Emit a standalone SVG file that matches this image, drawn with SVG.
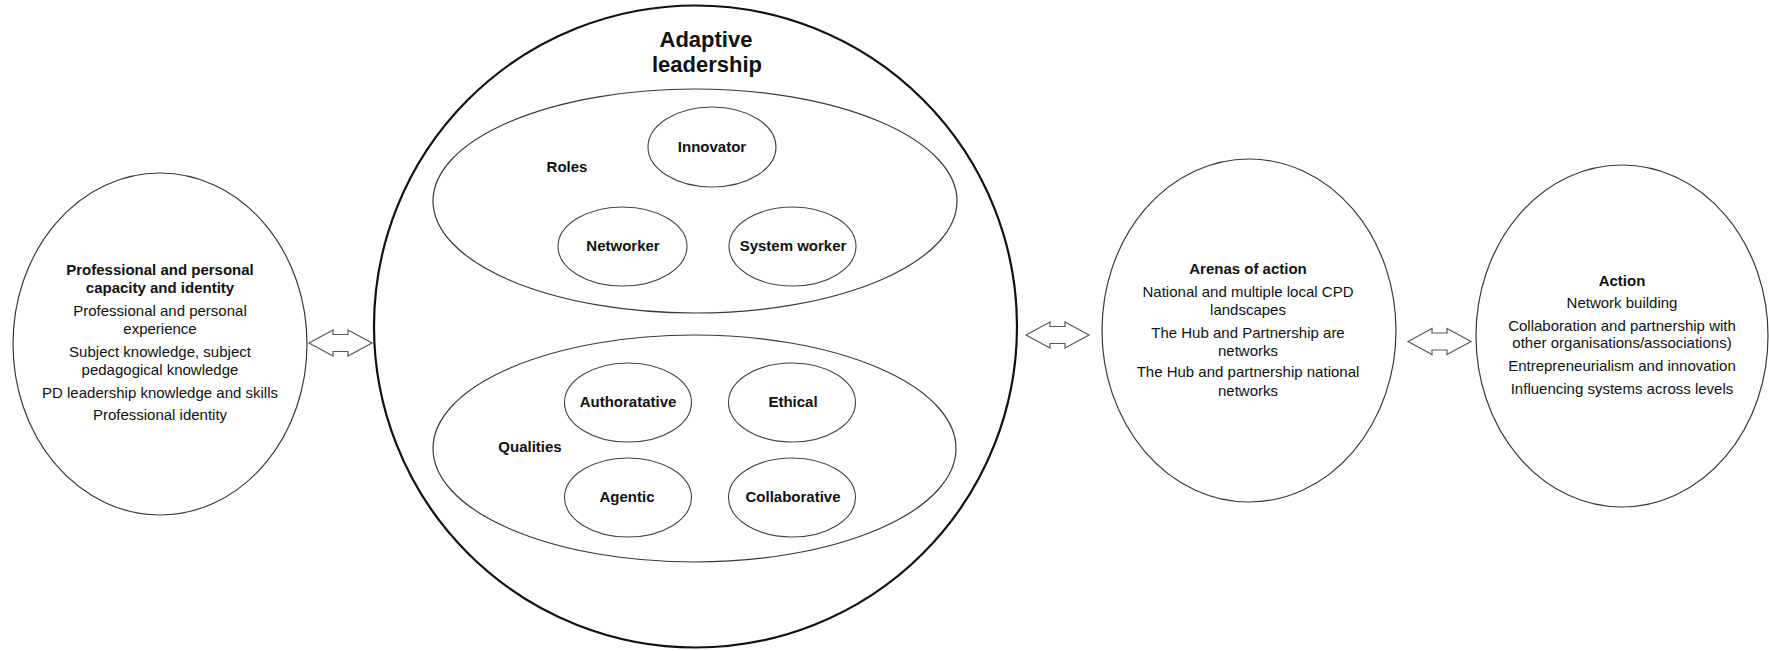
<svg xmlns="http://www.w3.org/2000/svg" xmlns:xlink="http://www.w3.org/1999/xlink" width="1769" height="651" viewBox="0 0 1769 651">
  <style>
    .bg { fill: #ffffff; }
    .node { fill: #ffffff; stroke: #3a3a3a; stroke-width: 1.2; }
    .outer { fill: #ffffff; stroke: #111111; stroke-width: 2.2; }
    .inner { fill: #ffffff; stroke: #444444; stroke-width: 1.1; }
    text { font-family: "Liberation Sans", Arial, sans-serif; fill: #111111; text-anchor: middle; }
    .t { font-size: 15px; }
    .b { font-size: 15px; font-weight: bold; }
    .big { font-size: 22px; font-weight: bold; }
    .lbl { font-size: 15px; font-weight: bold; }
    .arrow { fill: #ffffff; stroke: #5a5a5a; stroke-width: 1.2; stroke-linejoin: miter; }
  </style>
  <defs>
    <!-- double-headed block arrow, left tip at origin -->
    <path id="dblArrow" class="arrow" d="M0,0 L24,-13 L24,-8.5 L39,-8.5 L39,-13 L63,0 L39,13 L39,8.5 L24,8.5 L24,13 Z"/>
  </defs>

  <rect class="bg" x="0" y="0" width="1769" height="651"/>

  <!-- Left: capacity and identity -->
  <g id="capacity">
    <ellipse class="node" cx="160" cy="344" rx="147" ry="171"/>
    <text class="b" x="160" y="275">Professional and personal</text>
    <text class="b" x="160" y="293">capacity and identity</text>
    <text class="t" x="160" y="316">Professional and personal</text>
    <text class="t" x="160" y="334">experience</text>
    <text class="t" x="160" y="357">Subject knowledge, subject</text>
    <text class="t" x="160" y="375">pedagogical knowledge</text>
    <text class="t" x="160" y="398">PD leadership knowledge and skills</text>
    <text class="t" x="160" y="420">Professional identity</text>
  </g>

  <!-- Centre: adaptive leadership -->
  <g id="adaptive-leadership">
    <ellipse class="outer" cx="695.5" cy="326.5" rx="321.5" ry="321"/>
    <text class="big" x="706" y="47">Adaptive</text>
    <text class="big" x="707" y="72">leadership</text>
  </g>

  <g id="roles">
    <ellipse class="node" cx="695" cy="201" rx="262" ry="112"/>
    <text class="lbl" x="567" y="172">Roles</text>
  </g>
  <g id="innovator">
    <ellipse class="inner" cx="712" cy="147" rx="64" ry="40"/>
    <text class="lbl" x="712" y="152">Innovator</text>
  </g>
  <g id="networker">
    <ellipse class="inner" cx="622.5" cy="246.5" rx="64.5" ry="39.5"/>
    <text class="lbl" x="623" y="251">Networker</text>
  </g>
  <g id="system-worker">
    <ellipse class="inner" cx="792.5" cy="246.5" rx="63.5" ry="39.5"/>
    <text class="lbl" x="793" y="251">System worker</text>
  </g>

  <g id="qualities">
    <ellipse class="node" cx="694.5" cy="448.5" rx="261.5" ry="113.5"/>
    <text class="lbl" x="530" y="452">Qualities</text>
  </g>
  <g id="authoratative">
    <ellipse class="inner" cx="628" cy="402.5" rx="63.5" ry="39.5"/>
    <text class="lbl" x="628" y="407">Authoratative</text>
  </g>
  <g id="ethical">
    <ellipse class="inner" cx="792" cy="402.5" rx="63.5" ry="39.5"/>
    <text class="lbl" x="793" y="407">Ethical</text>
  </g>
  <g id="agentic">
    <ellipse class="inner" cx="628" cy="497.5" rx="63.5" ry="39.5"/>
    <text class="lbl" x="627" y="502">Agentic</text>
  </g>
  <g id="collaborative">
    <ellipse class="inner" cx="792" cy="497.5" rx="63.5" ry="39.5"/>
    <text class="lbl" x="793" y="502">Collaborative</text>
  </g>

  <!-- Arenas of action -->
  <g id="arenas">
    <ellipse class="node" cx="1249" cy="330.5" rx="147" ry="171.5"/>
    <text class="b" x="1248" y="274">Arenas of action</text>
    <text class="t" x="1248" y="297">National and multiple local CPD</text>
    <text class="t" x="1248" y="315">landscapes</text>
    <text class="t" x="1248" y="338">The Hub and Partnership are</text>
    <text class="t" x="1248" y="356">networks</text>
    <text class="t" x="1248" y="377">The Hub and partnership national</text>
    <text class="t" x="1248" y="396">networks</text>
  </g>

  <!-- Action -->
  <g id="action">
    <ellipse class="node" cx="1622" cy="336" rx="146" ry="171"/>
    <text class="b" x="1622" y="286">Action</text>
    <text class="t" x="1622" y="308">Network building</text>
    <text class="t" x="1622" y="331">Collaboration and partnership with</text>
    <text class="t" x="1622" y="348">other organisations/associations)</text>
    <text class="t" x="1622" y="371">Entrepreneurialism and innovation</text>
    <text class="t" x="1622" y="394">Influencing systems across levels</text>
  </g>

  <!-- two-way links between the stages -->
  <g id="connectors">
    <use xlink:href="#dblArrow" href="#dblArrow" transform="translate(309,343)"/>
    <use xlink:href="#dblArrow" href="#dblArrow" transform="translate(1026,335)"/>
    <use xlink:href="#dblArrow" href="#dblArrow" transform="translate(1408,341.5)"/>
  </g>
</svg>
